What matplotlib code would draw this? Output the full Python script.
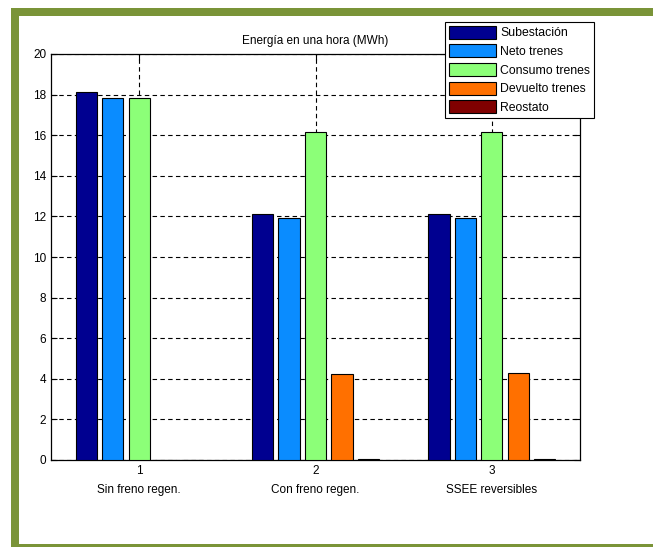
import numpy as np
import matplotlib
matplotlib.use('Agg')
import matplotlib.pyplot as plt
from matplotlib.patches import Rectangle, Patch

plt.rcParams['font.family'] = ['Liberation Sans', 'DejaVu Sans']

# Energy per scenario (MWh in one hour)
scenarios = ['Sin freno regen.', 'Con freno regen.', 'SSEE reversibles']
series_names = ['Subestación', 'Neto trenes', 'Consumo trenes', 'Devuelto trenes', 'Reostato']
subestacion = [18.15, 12.1, 12.1]
neto_trenes = [17.85, 11.9, 11.9]
consumo_trenes = [17.85, 16.15, 16.15]
devuelto_trenes = [0.0, 4.25, 4.3]
reostato = [0.0, 0.05, 0.05]

series = [subestacion, neto_trenes, consumo_trenes, devuelto_trenes, reostato]
colors = ['#000090', '#0a8cff', '#8cff78', '#ff7000', '#800000']

fig = plt.figure(figsize=(6.53, 5.47), dpi=100)
fig.patch.set_facecolor('white')

# green frame round the picture
W, H = 653, 547
green = '#7a9438'
for (x0, y0, w, h) in [(11, 8, W - 11, 8), (11, 8, 8, H - 8), (11, 544, W - 11, 3)]:
    fig.patches.append(Rectangle((x0 / W, 1 - (y0 + h) / H), w / W, h / H,
                                 transform=fig.transFigure, facecolor=green,
                                 edgecolor='none', zorder=0))

ax = fig.add_axes([51 / W, 1 - 460 / H, (580 - 51) / W, (460 - 54) / H])

x = np.arange(1, len(scenarios) + 1)
offsets = [-0.3, -0.15, 0.0, 0.15, 0.3]
width = 0.12
for vals, off, col in zip(series, offsets, colors):
    ax.bar(x + off, vals, width=width, color=col, edgecolor='black',
           linewidth=0.8, zorder=3)

ax.set_xlim(0.5, 3.5)
ax.set_ylim(0, 20)
ax.set_yticks(np.arange(0, 21, 2))
ax.set_xticks(x)
ax.set_xticklabels([f'{i}\n{name}' for i, name in zip(x, scenarios)],
                   linespacing=1.8)

ax.grid(True, color='black', linestyle=(0, (4, 3)), linewidth=0.8, zorder=1)
ax.tick_params(direction='in', length=4, labelsize=8.5, top=True, right=True,
               width=0.8, colors='black')
for s in ax.spines.values():
    s.set_linewidth(0.9)

ax.set_title('Energía en una hora (MWh)', fontsize=8.5, pad=7)

handles = [Patch(facecolor=c, edgecolor='black', linewidth=0.8) for c in colors]
leg = fig.legend(handles, series_names, loc='upper left',
                 bbox_to_anchor=(445 / W, 1 - 22 / H), borderaxespad=0,
                 fontsize=8.8, handlelength=3.9, handleheight=1.25,
                 labelspacing=0.42, handletextpad=0.3, borderpad=0.3,
                 fancybox=False, framealpha=1, edgecolor='black')
leg.get_frame().set_linewidth(0.8)

fig.savefig('out.png', dpi=100)
